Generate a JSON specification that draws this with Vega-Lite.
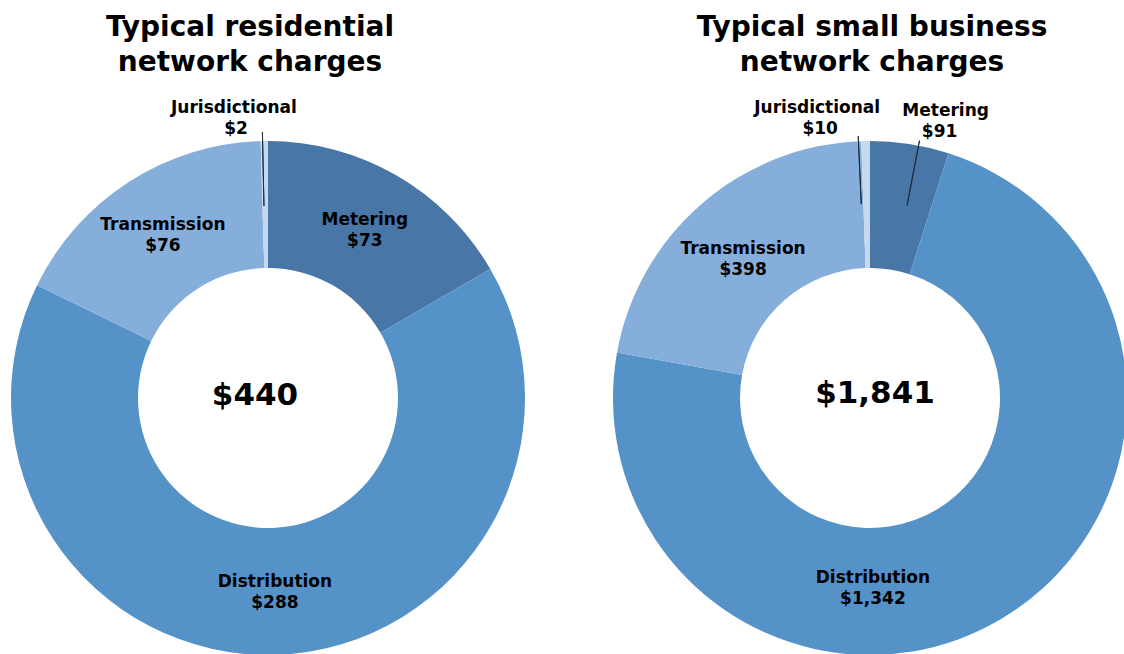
{
  "$schema": "https://vega.github.io/schema/vega-lite/v6.json",
  "padding": {"left": 0, "top": 14, "right": -14, "bottom": 0},
  "background": "white",
  "spacing": 66,
  "config": {"view": {"stroke": null}, "font": "DejaVu Sans"},
  "datasets": {
    "residential": [
      {"category": "Metering", "value": 73, "order": 1},
      {"category": "Distribution", "value": 288, "order": 2},
      {"category": "Transmission", "value": 76, "order": 3},
      {"category": "Jurisdictional", "value": 2, "order": 4}
    ],
    "business": [
      {"category": "Metering", "value": 91, "order": 1},
      {"category": "Distribution", "value": 1342, "order": 2},
      {"category": "Transmission", "value": 398, "order": 3},
      {"category": "Jurisdictional", "value": 10, "order": 4}
    ],
    "totals": [
      {"chart": "residential", "total": 440},
      {"chart": "business", "total": 1841}
    ]
  },
  "hconcat": [
    {
      "width": 536,
      "height": 514,
      "title": {"text": ["Typical residential", "network charges"], "fontSize": 28, "font": "DejaVu Sans", "fontWeight": "bold", "lineHeight": 35, "offset": 22, "anchor": "middle", "color": "#000000", "dx": -18},
      "data": {"name": "residential"},
      "layer": [
        {
          "mark": {"type": "arc", "innerRadius": 130, "outerRadius": 257},
          "encoding": {
            "theta": {"field": "value", "type": "quantitative", "stack": true},
            "order": {"field": "order", "type": "quantitative", "sort": "ascending"},
            "color": {"field": "category", "type": "nominal", "legend": null,
              "scale": {"domain": ["Metering", "Distribution", "Transmission", "Jurisdictional"], "range": ["#4876a6", "#5592c8", "#86aedb", "#c4d8ee"]}}
          }
        },
        {
          "mark": {"type": "text", "radius": 194, "dy": -10, "font": "DejaVu Sans", "fontWeight": "bold", "fontSize": 17, "color": "#000000"},
          "encoding": {
            "theta": {"field": "value", "type": "quantitative", "stack": true},
            "order": {"field": "order", "type": "quantitative", "sort": "ascending"},
            "text": {"condition": {"test": "datum.category !== 'Jurisdictional'", "field": "category", "type": "nominal"}, "value": ""}
          }
        },
        {
          "mark": {"type": "text", "radius": 194, "dy": 11, "font": "DejaVu Sans", "fontWeight": "bold", "fontSize": 17, "color": "#000000"},
          "encoding": {
            "theta": {"field": "value", "type": "quantitative", "stack": true},
            "order": {"field": "order", "type": "quantitative", "sort": "ascending"},
            "text": {"condition": {"test": "datum.category !== 'Jurisdictional'", "field": "value", "type": "quantitative", "format": "$,.0f"}, "value": ""}
          }
        },
        {
          "mark": {"type": "text", "radius": 282, "dx": -30, "dy": -8, "font": "DejaVu Sans", "fontWeight": "bold", "fontSize": 17, "color": "#000000"},
          "encoding": {
            "theta": {"field": "value", "type": "quantitative", "stack": true},
            "order": {"field": "order", "type": "quantitative", "sort": "ascending"},
            "text": {"condition": {"test": "datum.category === 'Jurisdictional'", "field": "category", "type": "nominal"}, "value": ""}
          }
        },
        {
          "mark": {"type": "text", "radius": 282, "dx": -28, "dy": 13, "font": "DejaVu Sans", "fontWeight": "bold", "fontSize": 17, "color": "#000000"},
          "encoding": {
            "theta": {"field": "value", "type": "quantitative", "stack": true},
            "order": {"field": "order", "type": "quantitative", "sort": "ascending"},
            "text": {"condition": {"test": "datum.category === 'Jurisdictional'", "field": "value", "type": "quantitative", "format": "$,.0f"}, "value": ""}
          }
        },
        {
          "transform": [
            {"stack": "value", "groupby": [], "sort": [{"field": "order", "order": "ascending"}], "as": ["v0", "v1"]},
            {"filter": "datum.category === 'Jurisdictional'"}
          ],
          "mark": {"type": "arc", "innerRadius": 192, "outerRadius": 266, "filled": false, "stroke": "#1f2d3d", "strokeWidth": 1, "thetaOffset": -0.021, "theta2Offset": -0.021},
          "encoding": {
            "theta": {"field": "v1", "type": "quantitative"},
            "theta2": {"field": "v1"}
          }
        },
        {
          "data": {"name": "totals"},
          "transform": [{"filter": "datum.chart === 'residential'"}],
          "mark": {"type": "text", "font": "DejaVu Sans", "fontWeight": "bold", "fontSize": 31, "baseline": "middle", "dx": -13, "dy": -2, "color": "#000000"},
          "encoding": {"text": {"field": "total", "type": "quantitative", "format": "$,.0f"}}
        }
      ]
    },
    {
      "width": 536,
      "height": 514,
      "title": {"text": ["Typical small business", "network charges"], "fontSize": 28, "font": "DejaVu Sans", "fontWeight": "bold", "lineHeight": 35, "offset": 22, "anchor": "middle", "color": "#000000", "dx": 2},
      "data": {"name": "business"},
      "layer": [
        {
          "mark": {"type": "arc", "innerRadius": 130, "outerRadius": 257},
          "encoding": {
            "theta": {"field": "value", "type": "quantitative", "stack": true},
            "order": {"field": "order", "type": "quantitative", "sort": "ascending"},
            "color": {"field": "category", "type": "nominal", "legend": null,
              "scale": {"domain": ["Metering", "Distribution", "Transmission", "Jurisdictional"], "range": ["#4876a6", "#5592c8", "#86aedb", "#c4d8ee"]}}
          }
        },
        {
          "mark": {"type": "text", "radius": 194, "dy": -2, "font": "DejaVu Sans", "fontWeight": "bold", "fontSize": 17, "color": "#000000"},
          "encoding": {
            "theta": {"field": "value", "type": "quantitative", "stack": true},
            "order": {"field": "order", "type": "quantitative", "sort": "ascending"},
            "text": {"condition": {"test": "datum.category === 'Transmission'", "field": "category", "type": "nominal"}, "value": ""}
          }
        },
        {
          "mark": {"type": "text", "radius": 194, "dy": 19, "font": "DejaVu Sans", "fontWeight": "bold", "fontSize": 17, "color": "#000000"},
          "encoding": {
            "theta": {"field": "value", "type": "quantitative", "stack": true},
            "order": {"field": "order", "type": "quantitative", "sort": "ascending"},
            "text": {"condition": {"test": "datum.category === 'Transmission'", "field": "value", "type": "quantitative", "format": "$,.0f"}, "value": ""}
          }
        },
        {
          "mark": {"type": "text", "radius": 194, "dx": -97, "dy": 14, "font": "DejaVu Sans", "fontWeight": "bold", "fontSize": 17, "color": "#000000"},
          "encoding": {
            "theta": {"field": "value", "type": "quantitative", "stack": true},
            "order": {"field": "order", "type": "quantitative", "sort": "ascending"},
            "text": {"condition": {"test": "datum.category === 'Distribution'", "field": "category", "type": "nominal"}, "value": ""}
          }
        },
        {
          "mark": {"type": "text", "radius": 194, "dx": -97, "dy": 35, "font": "DejaVu Sans", "fontWeight": "bold", "fontSize": 17, "color": "#000000"},
          "encoding": {
            "theta": {"field": "value", "type": "quantitative", "stack": true},
            "order": {"field": "order", "type": "quantitative", "sort": "ascending"},
            "text": {"condition": {"test": "datum.category === 'Distribution'", "field": "value", "type": "quantitative", "format": "$,.0f"}, "value": ""}
          }
        },
        {
          "mark": {"type": "text", "radius": 282, "dx": 32, "dy": -8, "font": "DejaVu Sans", "fontWeight": "bold", "fontSize": 17, "color": "#000000"},
          "encoding": {
            "theta": {"field": "value", "type": "quantitative", "stack": true},
            "order": {"field": "order", "type": "quantitative", "sort": "ascending"},
            "text": {"condition": {"test": "datum.category === 'Metering'", "field": "category", "type": "nominal"}, "value": ""}
          }
        },
        {
          "mark": {"type": "text", "radius": 282, "dx": 26, "dy": 13, "font": "DejaVu Sans", "fontWeight": "bold", "fontSize": 17, "color": "#000000"},
          "encoding": {
            "theta": {"field": "value", "type": "quantitative", "stack": true},
            "order": {"field": "order", "type": "quantitative", "sort": "ascending"},
            "text": {"condition": {"test": "datum.category === 'Metering'", "field": "value", "type": "quantitative", "format": "$,.0f"}, "value": ""}
          }
        },
        {
          "mark": {"type": "text", "radius": 282, "dx": -48, "dy": -8, "font": "DejaVu Sans", "fontWeight": "bold", "fontSize": 17, "color": "#000000"},
          "encoding": {
            "theta": {"field": "value", "type": "quantitative", "stack": true},
            "order": {"field": "order", "type": "quantitative", "sort": "ascending"},
            "text": {"condition": {"test": "datum.category === 'Jurisdictional'", "field": "category", "type": "nominal"}, "value": ""}
          }
        },
        {
          "mark": {"type": "text", "radius": 282, "dx": -45, "dy": 13, "font": "DejaVu Sans", "fontWeight": "bold", "fontSize": 17, "color": "#000000"},
          "encoding": {
            "theta": {"field": "value", "type": "quantitative", "stack": true},
            "order": {"field": "order", "type": "quantitative", "sort": "ascending"},
            "text": {"condition": {"test": "datum.category === 'Jurisdictional'", "field": "value", "type": "quantitative", "format": "$,.0f"}, "value": ""}
          }
        },
        {
          "transform": [
            {"stack": "value", "groupby": [], "sort": [{"field": "order", "order": "ascending"}], "as": ["v0", "v1"]},
            {"filter": "datum.category === 'Jurisdictional'"}
          ],
          "mark": {"type": "arc", "innerRadius": 194, "outerRadius": 262, "filled": false, "stroke": "#1f2d3d", "strokeWidth": 1, "thetaOffset": -0.045, "theta2Offset": -0.045},
          "encoding": {
            "theta": {"field": "v1", "type": "quantitative"},
            "theta2": {"field": "v1"}
          }
        },
        {
          "transform": [
            {"stack": "value", "groupby": [], "sort": [{"field": "order", "order": "ascending"}], "as": ["v0", "v1"]},
            {"filter": "datum.category === 'Metering'"}
          ],
          "mark": {"type": "arc", "innerRadius": 196, "outerRadius": 262, "filled": false, "stroke": "#1f2d3d", "strokeWidth": 1, "thetaOffset": 0.19, "theta2Offset": 0.19},
          "encoding": {
            "theta": {"field": "v0", "type": "quantitative"},
            "theta2": {"field": "v0"}
          }
        },
        {
          "data": {"name": "totals"},
          "transform": [{"filter": "datum.chart === 'business'"}],
          "mark": {"type": "text", "font": "DejaVu Sans", "fontWeight": "bold", "fontSize": 31, "baseline": "middle", "dx": 5, "dy": -4, "color": "#000000"},
          "encoding": {"text": {"field": "total", "type": "quantitative", "format": "$,.0f"}}
        }
      ]
    }
  ]
}
